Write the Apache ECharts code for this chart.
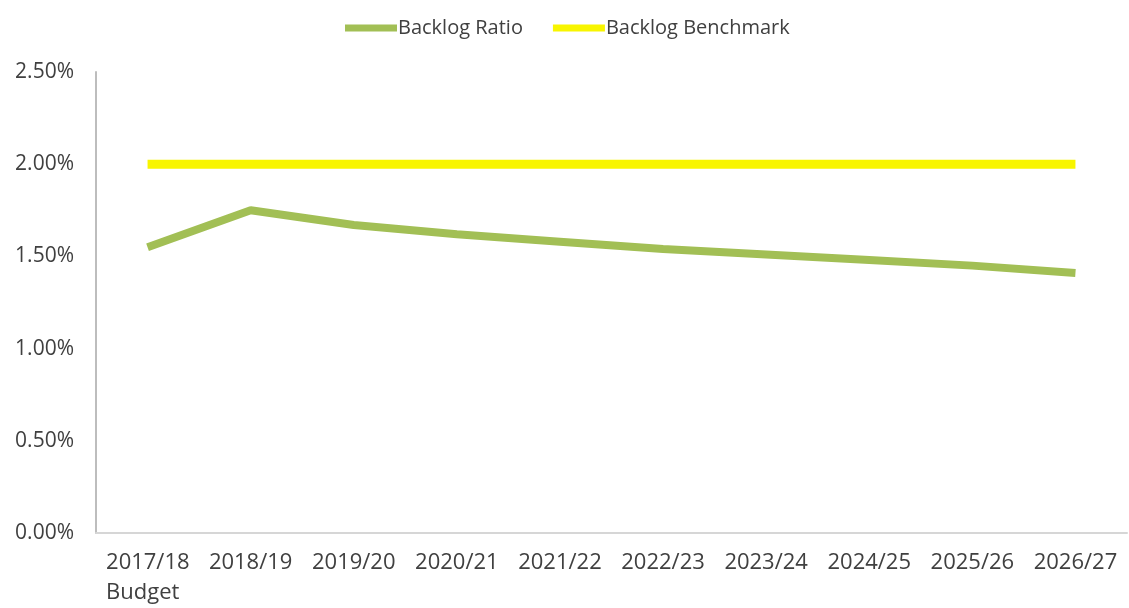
<!DOCTYPE html>
<html>
<head>
<meta charset="utf-8">
<script src="https://cdn.jsdelivr.net/npm/echarts@6/dist/echarts.min.js"></script>
<style>
  html, body { margin: 0; padding: 0; background: #ffffff; }
  #chart { width: 1129px; height: 608px; }
</style>
</head>
<body>
<div id="chart"></div>
<script>
// Financial years shown along the horizontal axis
const years = ['2017/18', '2018/19', '2019/20', '2020/21', '2021/22',
               '2022/23', '2023/24', '2024/25', '2025/26', '2026/27'];
// Backlog ratio (%) per year
const backlogRatio = [1.55, 1.75, 1.67, 1.62, 1.58, 1.54, 1.51, 1.48, 1.45, 1.41];
// Benchmark level (%) per year
const backlogBenchmark = [2.00, 2.00, 2.00, 2.00, 2.00, 2.00, 2.00, 2.00, 2.00, 2.00];
// Value axis ticks (%)
const yTicks = [0, 0.5, 1.0, 1.5, 2.0, 2.5];

const FONT = '"Open Sans", "Liberation Sans", sans-serif';
const TEXT = '#404040';

const chart = echarts.init(document.getElementById('chart'), null, { renderer: 'canvas' });
chart.setOption({
  animation: false,
  backgroundColor: '#ffffff',
  textStyle: { fontFamily: FONT },
  legend: {
    top: 13,
    left: 340,
    itemWidth: 52,
    itemHeight: 7,
    itemGap: 30,
    icon: 'rect',
    textStyle: { fontFamily: FONT, fontSize: 20, color: TEXT, padding: [0, 0, 0, -4] },
    data: ['Backlog Ratio', 'Backlog Benchmark']
  },
  grid: { left: 96, right: 2, top: 72, bottom: 72, containLabel: false },
  xAxis: {
    type: 'category',
    data: years,
    boundaryGap: true,
    axisLine: { lineStyle: { color: '#d6d6d6', width: 2 } },
    axisTick: { show: false },
    axisLabel: {
      interval: 0,
      margin: 15,
      fontFamily: FONT,
      fontSize: 22,
      lineHeight: 30,
      color: TEXT,
      formatter: function (v, i) {
        return i === 0 ? '{b|' + v + '}\n{b|Budget}' : v;
      },
      rich: {
        b: { width: 83, align: 'left', fontFamily: FONT, fontSize: 22, color: TEXT, lineHeight: 30 }
      }
    },
    splitLine: { show: false }
  },
  yAxis: {
    type: 'value',
    min: yTicks[0],
    max: yTicks[yTicks.length - 1],
    interval: 0.5,
    axisLine: { show: true, lineStyle: { color: '#bdbdbd', width: 2 } },
    axisTick: { show: false },
    splitLine: { show: false },
    axisLabel: {
      margin: 22,
      fontFamily: FONT,
      fontSize: 21,
      color: TEXT,
      formatter: function (v) { return v.toFixed(2) + '%'; }
    }
  },
  series: [
    {
      name: 'Backlog Ratio',
      type: 'line',
      data: backlogRatio,
      symbol: 'none',
      smooth: false,
      color: '#a2bf55',
      lineStyle: { color: '#a2bf55', width: 8 }
    },
    {
      name: 'Backlog Benchmark',
      type: 'line',
      data: backlogBenchmark,
      symbol: 'none',
      color: '#f8f500',
      lineStyle: { color: '#f8f500', width: 9 }
    }
  ]
});
</script>
</body>
</html>
